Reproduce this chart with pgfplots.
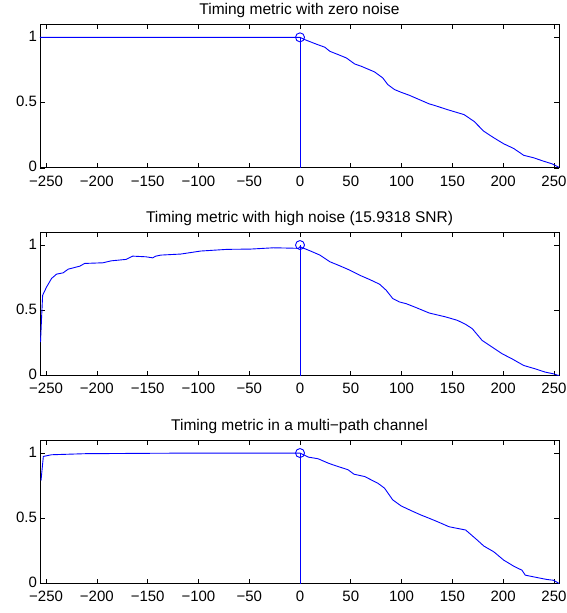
\documentclass[border=0pt]{standalone}
\usepackage{pgfplots}
\pgfplotsset{compat=1.18}
\usepackage{fontspec}
\setmainfont{Liberation Sans}
\definecolor{mblue}{rgb}{0,0,1}
\pgfplotsset{
 mystyle/.style={
  scale only axis, width=519pt, height=143.5pt,
  xmin=-256, xmax=255, ymin=0, ymax=1.1,
  xtick={-250,-200,-150,-100,-50,0,50,100,150,200,250},
  xticklabels={−250,−200,−150,−100,−50,0,50,100,150,200,250},
  ytick={0,0.5,1}, yticklabels={0,0.5,1},
  tick align=inside, major tick length=5pt,
  axis line style={line width=0.8pt},
  every tick/.style={black, line width=0.6pt},
  tick label style={font=\fontsize{15}{17}\selectfont},
  xticklabel style={yshift=-4.3pt},
  yticklabel style={xshift=0.5pt, yshift=1pt},
  title style={font=\fontsize{15.5}{17}\selectfont, at={(0.5,1)}, anchor=base, yshift=3.8pt},
  anchor=north west,
 },
 curve/.style={color=mblue, draw=mblue, line width=0.9pt, mark=none},
 vline/.style={color=mblue, draw=mblue, line width=1pt, mark=none},
 peak/.style={only marks, mark=o, mark size=4.5pt, mark options={solid, draw=mblue, line width=0.9pt}},
}
\begin{document}
\begin{tikzpicture}
\path[use as bounding box] (0,0) rectangle (566pt,-613pt);
% ---------- plot 1
\begin{axis}[mystyle, at={(40pt,-24.3pt)}, title={Timing metric with zero noise}]
\addplot[curve] coordinates {
(-256,1) (0,1) (4.9,0.982) (14.7,0.952) (24.5,0.924) (29.4,0.893) (37.5,0.868) (45.7,0.842)
(53.8,0.796) (60.4,0.778) (73.4,0.735) (81.5,0.689) (86.4,0.638) (93,0.600) (99.5,0.579)
(107.6,0.556) (117.4,0.523) (127.2,0.490) (132.1,0.479) (145.1,0.446) (161.4,0.408)
(171.2,0.357) (181,0.280) (190.8,0.230) (200.6,0.184) (210.4,0.148) (220.2,0.096)
(229.9,0.077) (239.7,0.051) (247.9,0.031) (252.8,0.012) (255,0.004)};
\addplot[vline] coordinates {(0,0) (0,1)};
\addplot[peak] coordinates {(0,1)};
\end{axis}
% ---------- plot 2
\begin{axis}[mystyle, at={(40pt,-232pt)}, title={Timing metric with high noise (15.9318 SNR)}]
\addplot[curve] coordinates {
(-255.5,0.256) (-254.4,0.45) (-253.4,0.615) (-249.5,0.679) (-244.6,0.744) (-239.7,0.777)
(-233.2,0.787) (-228.3,0.815) (-216.9,0.838) (-212,0.859) (-194,0.864) (-185.9,0.879)
(-171.2,0.890) (-164.7,0.915) (-151.7,0.910) (-145.1,0.902) (-141.9,0.915) (-137,0.923) (-117.4,0.931) (-97.8,0.954)
(-71.7,0.967) (-48.9,0.969) (-26,0.979) (-1.6,0.975) (0,0.987)
(9.8,0.956) (19.6,0.923) (29.4,0.872) (39.1,0.841) (48.9,0.808) (58.7,0.769) (68.5,0.736)
(78.3,0.700) (84.8,0.654) (91.3,0.590) (97.8,0.564) (104.4,0.551) (114.2,0.521)
(127.2,0.479) (143.5,0.449) (154.9,0.423) (163.1,0.392) (169.6,0.359) (179.3,0.269)
(189.1,0.218) (198.9,0.167) (208.7,0.128) (220.2,0.077) (231.6,0.051) (241.4,0.026)
(249.5,0.013) (253.8,0.002) (255,0.0)};
\addplot[vline] coordinates {(0,0) (0,1)};
\addplot[peak] coordinates {(0,1)};
\end{axis}
% ---------- plot 3
\begin{axis}[mystyle, at={(40pt,-440pt)}, title={Timing metric in a multi−path channel}]
\addplot[curve] coordinates {
(-255,0.789) (-252.7,0.974) (-244.6,0.987) (-212,0.995) (-150,0.998) (-100,1.0) (0,1.0)
(8.2,0.969) (17.9,0.956) (27.7,0.923) (34.2,0.905) (47.3,0.872) (53.1,0.838) (63.6,0.820)
(76.6,0.769) (83.2,0.731) (91.3,0.641) (99.5,0.595) (109.3,0.559) (119.1,0.525)
(127.2,0.500) (135.3,0.474) (146.8,0.435) (163.1,0.410) (174.5,0.333) (181,0.287)
(190.8,0.243) (200.6,0.179) (210.4,0.133) (218.5,0.102) (221.8,0.064) (233.2,0.046)
(243,0.031) (249.5,0.025) (253.4,0.008) (255,0.0)};
\addplot[vline] coordinates {(0,0) (0,1)};
\addplot[peak] coordinates {(0,1)};
\end{axis}
\end{tikzpicture}
\end{document}
